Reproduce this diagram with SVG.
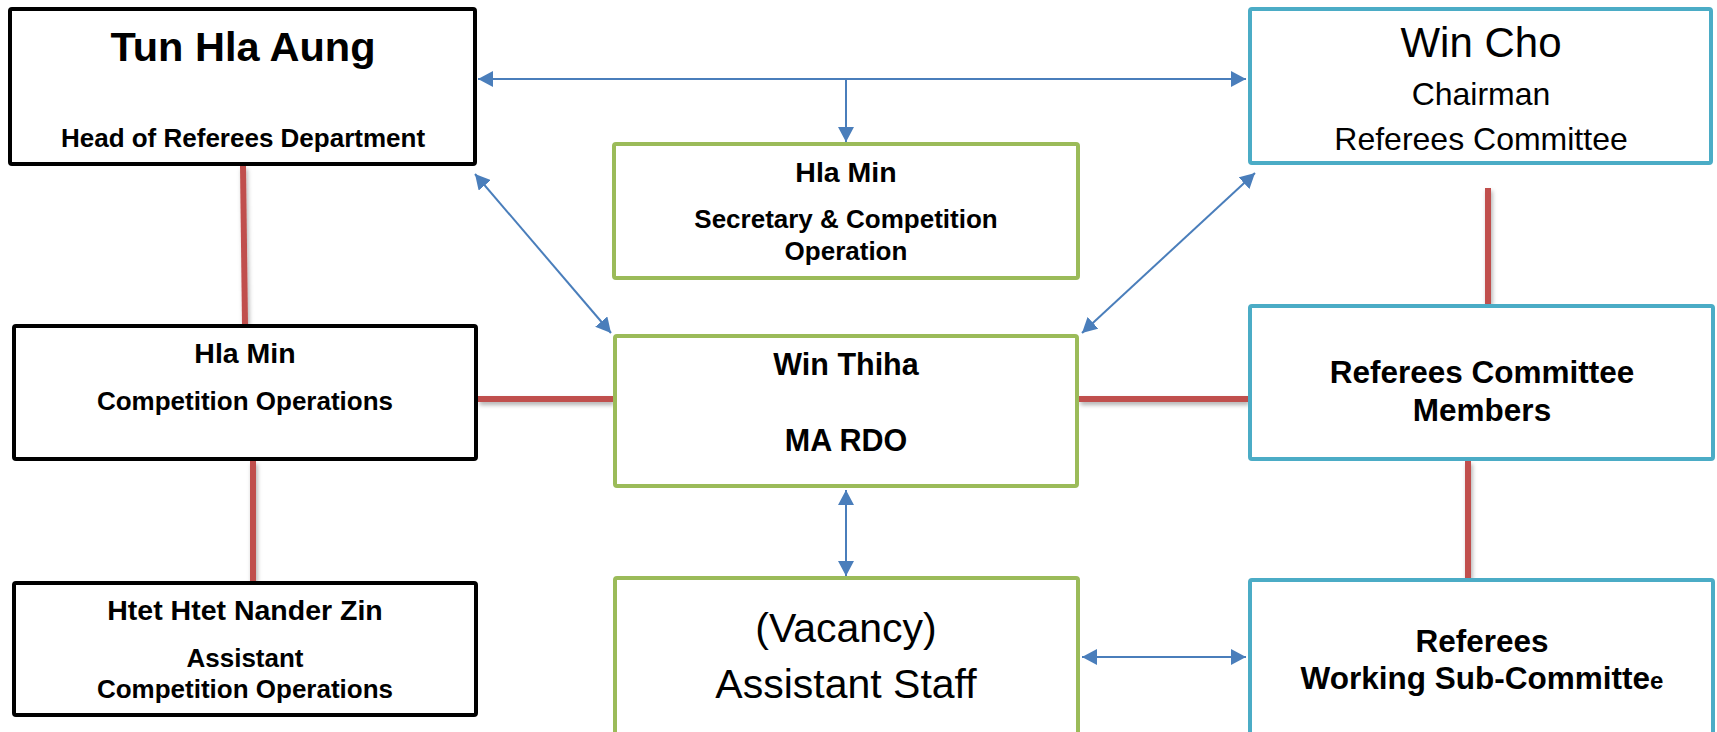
<svg xmlns="http://www.w3.org/2000/svg" width="1717" height="732" viewBox="0 0 1717 732">
  <style>
    .box { fill: #ffffff; stroke-width: 4; }
    .blk { stroke: #000000; }
    .grn { stroke: #9BBB59; }
    .teal { stroke: #4BACC6; }
    text { font-family: "Liberation Sans", Arial, sans-serif; fill: #000000; text-anchor: middle; }
    .b { font-weight: bold; }
    .sub { font-size: 26px; font-weight: bold; }
    .ttl { font-size: 28.5px; font-weight: bold; }
    .red { stroke: #C0504D; stroke-width: 6; fill: none; }
    .blue { stroke: #4A7EBB; stroke-width: 2; fill: none; }
  </style>
  <defs>
    <marker id="arr" viewBox="0 0 15 16" refX="15" refY="8" markerWidth="15" markerHeight="16" markerUnits="userSpaceOnUse" orient="auto-start-reverse">
      <path d="M0,0 L15,8 L0,16 z" fill="#4A7EBB"/>
    </marker>
    <filter id="sh" x="-20%" y="-20%" width="140%" height="140%">
      <feDropShadow dx="1.5" dy="3" stdDeviation="2" flood-color="#000000" flood-opacity="0.3"/>
    </filter>
  </defs>

  <g id="connectors">
    <g filter="url(#sh)">
      <line class="red" x1="243" y1="166" x2="245" y2="324"/>
      <line class="red" x1="253" y1="461" x2="253" y2="581"/>
      <line class="red" x1="478" y1="399" x2="613" y2="399"/>
      <line class="red" x1="1079" y1="399" x2="1248" y2="399"/>
      <line class="red" x1="1488" y1="188" x2="1488" y2="304"/>
      <line class="red" x1="1468" y1="461" x2="1468" y2="578"/>
    </g>
    <line class="blue" x1="478" y1="79" x2="1246" y2="79" marker-start="url(#arr)" marker-end="url(#arr)"/>
    <line class="blue" x1="846" y1="79" x2="846" y2="142" marker-end="url(#arr)"/>
    <line class="blue" x1="475" y1="174" x2="611" y2="333" marker-start="url(#arr)" marker-end="url(#arr)"/>
    <line class="blue" x1="1255" y1="173" x2="1082" y2="333" marker-start="url(#arr)" marker-end="url(#arr)"/>
    <line class="blue" x1="846" y1="490" x2="846" y2="576" marker-start="url(#arr)" marker-end="url(#arr)"/>
    <line class="blue" x1="1082" y1="657" x2="1246" y2="657" marker-start="url(#arr)" marker-end="url(#arr)"/>
  </g>

  <g id="tun-hla-aung">
    <rect class="box blk" x="10" y="9" width="465" height="155" rx="2"/>
    <text class="b" x="243" y="61" font-size="41.5">Tun Hla Aung</text>
    <text class="sub" x="243" y="147">Head of Referees Department</text>
  </g>

  <g id="win-cho">
    <rect class="box teal" x="1250" y="9" width="461" height="154" rx="2"/>
    <text x="1481" y="57" font-size="42">Win Cho</text>
    <text x="1481" y="105" font-size="32">Chairman</text>
    <text x="1481" y="150" font-size="32">Referees Committee</text>
  </g>

  <g id="hla-min-secretary">
    <rect class="box grn" x="614" y="144" width="464" height="134" rx="2"/>
    <text class="ttl" x="846" y="182">Hla Min</text>
    <text class="sub" x="846" y="228">Secretary &amp; Competition</text>
    <text class="sub" x="846" y="260">Operation</text>
  </g>

  <g id="hla-min-competition">
    <rect class="box blk" x="14" y="326" width="462" height="133" rx="2"/>
    <text class="ttl" x="245" y="363">Hla Min</text>
    <text class="sub" x="245" y="410">Competition Operations</text>
  </g>

  <g id="win-thiha">
    <rect class="box grn" x="615" y="336" width="462" height="150" rx="2"/>
    <text class="b" x="846" y="375" font-size="30.5">Win Thiha</text>
    <text class="b" x="846" y="451" font-size="30.5">MA RDO</text>
  </g>

  <g id="referees-committee-members">
    <rect class="box teal" x="1250" y="306" width="463" height="153" rx="2"/>
    <text class="b" x="1482" y="383" font-size="31.5">Referees Committee</text>
    <text class="b" x="1482" y="421" font-size="31.5">Members</text>
  </g>

  <g id="htet-htet-nander-zin">
    <rect class="box blk" x="14" y="583" width="462" height="132" rx="2"/>
    <text class="ttl" x="245" y="620">Htet Htet Nander Zin</text>
    <text class="sub" x="245" y="667">Assistant</text>
    <text class="sub" x="245" y="698">Competition Operations</text>
  </g>

  <g id="vacancy">
    <rect class="box grn" x="615" y="578" width="463" height="162" rx="2"/>
    <text x="846" y="642" font-size="41">(Vacancy)</text>
    <text x="846" y="698" font-size="41">Assistant Staff</text>
  </g>

  <g id="working-sub-committee">
    <rect class="box teal" x="1250" y="580" width="463" height="162" rx="2"/>
    <text class="b" x="1482" y="652" font-size="31.5">Referees</text>
    <text class="b" x="1482" y="689" font-size="31.5">Working Sub-Committe<tspan font-size="24">e</tspan></text>
  </g>
</svg>
